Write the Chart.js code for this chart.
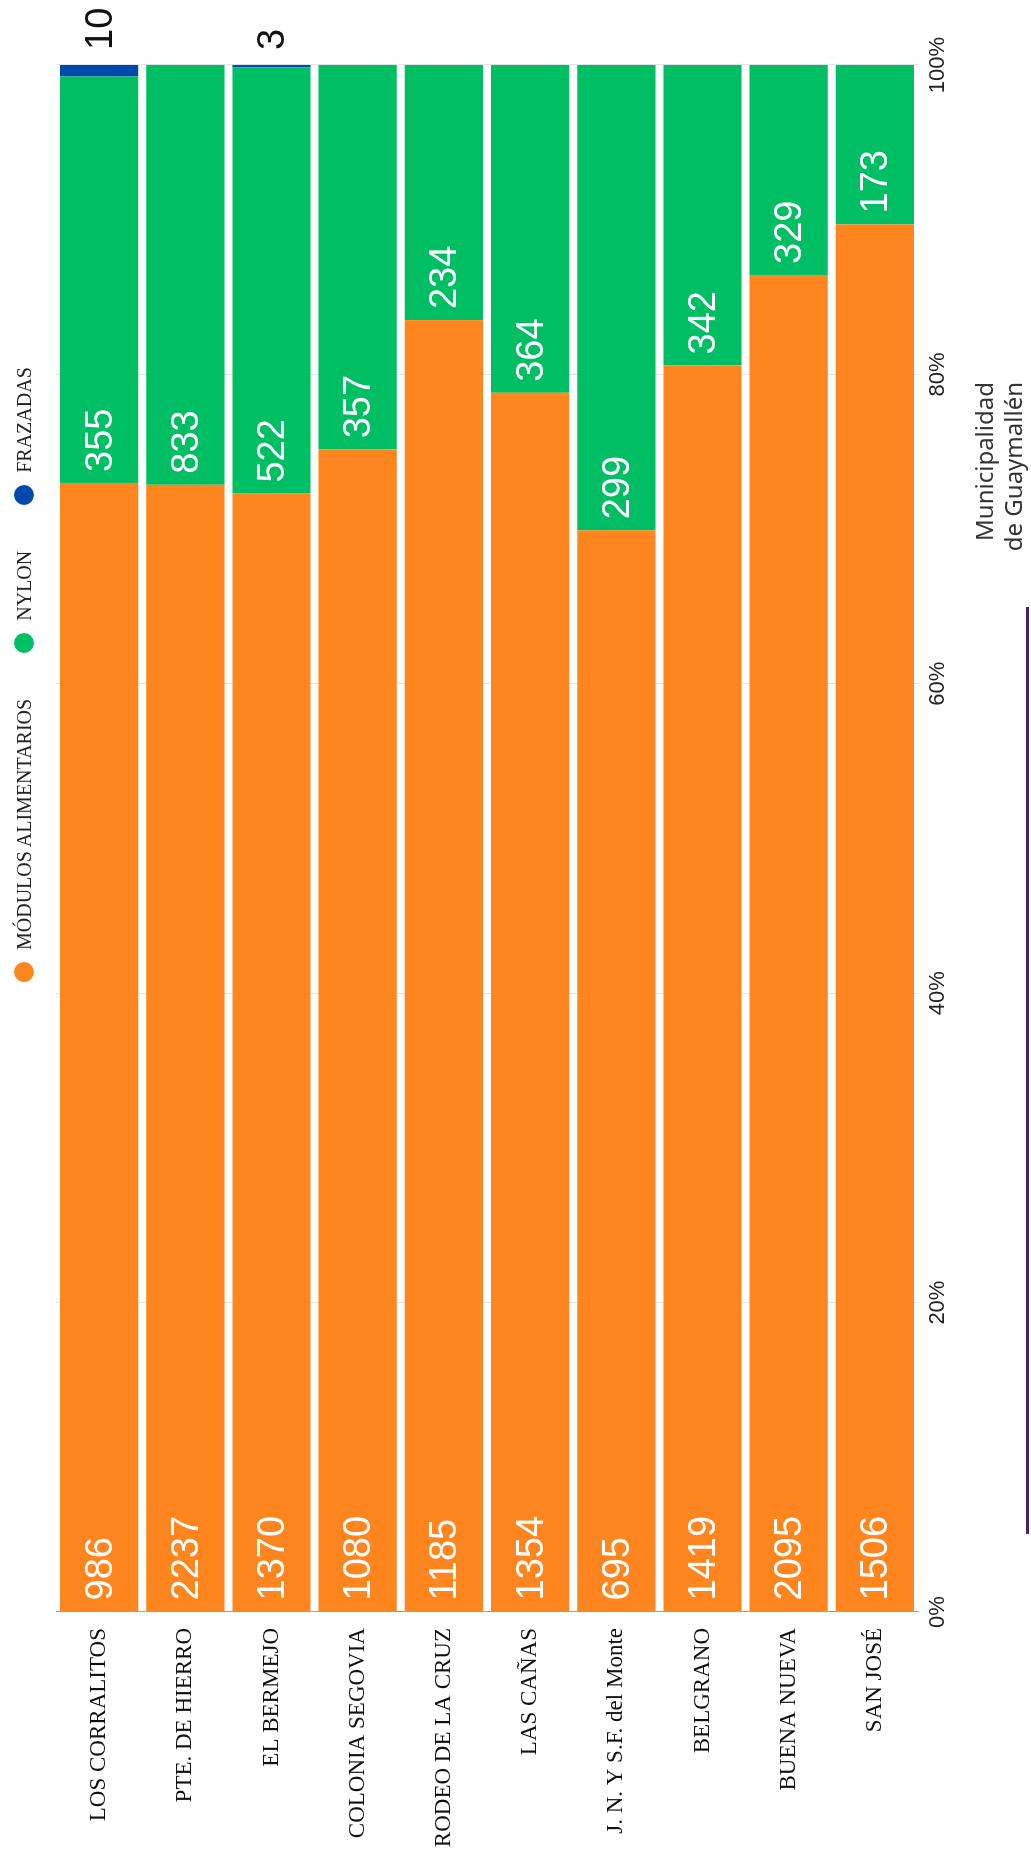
<!DOCTYPE html>
<html>
<head>
<meta charset="utf-8">
<script src="https://cdn.jsdelivr.net/npm/chart.js@4"></script>
<style>
html, body { margin: 0; padding: 0; width: 1031px; height: 1868px; overflow: hidden; background: #fff; }
#wrap {
    position: absolute; left: 0; top: 0;
    width: 1868px; height: 1031px;
    transform-origin: 0 0;
    transform: translateY(1868px) rotate(-90deg);
}
#chart { position: absolute; left: 0; top: 0; }
#legend {
    position: absolute; left: 886px; top: 10px; height: 28px;
    display: flex; align-items: center;
    font-family: "Liberation Serif", "Times New Roman", serif; font-size: 20px; color: #222;
}
#legend .item { display: flex; align-items: center; margin-right: 46px; }
#legend .dot { width: 20px; height: 20px; border-radius: 50%; margin-right: 12px; }
#logo {
    position: absolute; right: 382px; top: 969px;
    font-family: "Noto Sans", sans-serif; font-size: 24px; line-height: 29px;
    color: #333; text-align: right;
}
#logoLine { position: absolute; left: 334px; top: 1026px; width: 927px; height: 3px; background: #4b2273; }
</style>
</head>
<body>
<div id="wrap">
    <canvas id="chart" width="1868" height="1031"></canvas>
    <div id="legend"></div>
    <div id="logo">Municipalidad<br>de Guaymallén</div>
    <div id="logoLine"></div>
</div>
<script>
// Data
var barrios = ['LOS CORRALITOS', 'PTE. DE HIERRO', 'EL BERMEJO', 'COLONIA SEGOVIA', 'RODEO DE LA CRUZ',
    'LAS CAÑAS', 'J. N. Y S.F. del Monte', 'BELGRANO', 'BUENA NUEVA', 'SAN JOSÉ'];
var modulos = [986, 2237, 1370, 1080, 1185, 1354, 695, 1419, 2095, 1506];
var nylon = [355, 833, 522, 357, 234, 364, 299, 342, 329, 173];
var frazadas = [10, 0, 3, 0, 0, 0, 0, 0, 0, 0];
var seriesNames = ['MÓDULOS ALIMENTARIOS', 'NYLON', 'FRAZADAS'];
var seriesColors = ['#ff851e', '#00be64', '#0049ad'];
var pctTicks = [0, 20, 40, 60, 80, 100];

// 100% stacked: share of each barrio total
function toPct(arr) {
    return arr.map(function(v, i) {
        return v / (modulos[i] + nylon[i] + frazadas[i]) * 100;
    });
}

var rawSeries = [modulos, nylon, frazadas];

// Legend
var legend = document.getElementById('legend');
seriesNames.forEach(function(name, i) {
    var item = document.createElement('div');
    item.className = 'item';
    var dot = document.createElement('span');
    dot.className = 'dot';
    dot.style.background = seriesColors[i];
    var txt = document.createElement('span');
    txt.textContent = name;
    item.appendChild(dot);
    item.appendChild(txt);
    legend.appendChild(item);
});

// Value labels at the start of each segment
var segLabels = {
    id: 'segLabels',
    afterDatasetsDraw: function(chart) {
        var ctx = chart.ctx;
        ctx.save();
        ctx.font = '38px "Liberation Sans", Arial, sans-serif';
        ctx.textBaseline = 'middle';
        ctx.textAlign = 'left';
        chart.data.datasets.forEach(function(ds, i) {
            var meta = chart.getDatasetMeta(i);
            meta.data.forEach(function(bar, j) {
                var v = rawSeries[i][j];
                if (!v) return;
                if (i < 2) {
                    ctx.fillStyle = '#ffffff';
                    ctx.fillText(v, bar.base + 11, bar.y + 2);
                } else {
                    ctx.fillStyle = '#111111';
                    ctx.fillText(v, bar.x + 15, bar.y + 2);
                }
            });
        });
        ctx.restore();
    }
};

var ctx = document.getElementById('chart').getContext('2d');
var chart = new Chart(ctx, {
    type: 'bar',
    data: {
        labels: barrios,
        datasets: rawSeries.map(function(arr, i) {
            return {
                label: seriesNames[i],
                data: toPct(arr),
                backgroundColor: seriesColors[i],
                borderWidth: 0,
                barPercentage: 0.907,
                categoryPercentage: 1.0
            };
        })
    },
    options: {
        indexAxis: 'y',
        responsive: false,
        animation: false,
        devicePixelRatio: 1,
        layout: { padding: { top: 56, right: 65, bottom: 0, left: 0 } },
        plugins: {
            legend: { display: false },
            tooltip: { enabled: false }
        },
        scales: {
            x: {
                stacked: true,
                min: 0,
                max: 100,
                afterFit: function(scale) { scale.height = 113; },
                afterBuildTicks: function(scale) {
                    scale.ticks = pctTicks.map(function(v) { return { value: v }; });
                },
                grid: { color: '#e3e3e3', lineWidth: 1, drawTicks: false },
                border: { display: false },
                ticks: {
                    padding: 7,
                    color: '#222',
                    font: { family: '"Liberation Sans", Arial, sans-serif', size: 22 },
                    callback: function(v) { return v + '%'; }
                }
            },
            y: {
                stacked: true,
                afterFit: function(scale) { scale.width = 256; },
                grid: { display: false, drawTicks: false },
                border: { display: true, color: '#a0a0a0', width: 1 },
                ticks: {
                    padding: 16,
                    color: '#111',
                    font: { family: '"Liberation Serif", "Times New Roman", serif', size: 23 }
                }
            }
        }
    },
    plugins: [segLabels]
});
</script>
</body>
</html>
